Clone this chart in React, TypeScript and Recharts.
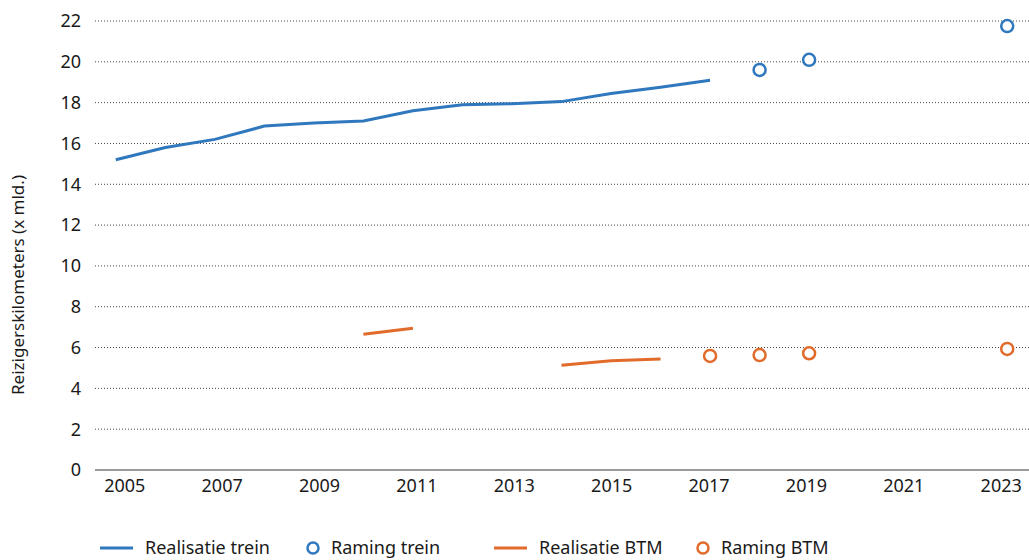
import { ComposedChart, Line, XAxis, YAxis, CartesianGrid } from 'recharts';

const years = [2005, 2006, 2007, 2008, 2009, 2010, 2011, 2012, 2013, 2014, 2015, 2016, 2017, 2018, 2019, 2020, 2021, 2022, 2023];
const realisatieTrein = [15.2, 15.8, 16.2, 16.85, 17.0, 17.1, 17.6, 17.9, 17.95, 18.05, 18.45, 18.75, 19.1, null, null, null, null, null, null];
const ramingTrein = [null, null, null, null, null, null, null, null, null, null, null, null, null, 19.6, 20.1, null, null, null, 21.75];
const realisatieBTM = [null, null, null, null, null, 6.65, 6.95, null, null, 5.13, 5.35, 5.44, null, null, null, null, null, null, null];
const ramingBTM = [null, null, null, null, null, null, null, null, null, null, null, null, 5.59, 5.63, 5.72, null, null, null, 5.93];
const xTicks = [2005, 2007, 2009, 2011, 2013, 2015, 2017, 2019, 2021, 2023];
const yTicks = [0, 2, 4, 6, 8, 10, 12, 14, 16, 18, 20, 22];

const blue = '#2f78bd';
const orange = '#e16b2a';
const font = "'Noto Sans', sans-serif";

const data = years.map((y, i) => ({
  year: y,
  realisatieTrein: realisatieTrein[i],
  ramingTrein: ramingTrein[i],
  realisatieBTM: realisatieBTM[i],
  ramingBTM: ramingBTM[i],
}));

const XTick = (props: any) => {
  const { x, y, payload } = props;
  // labels in the original sit slightly off the data positions
  const shift = 9 - ((payload.value - 2005) * 15) / 18;
  return (
    <text x={x + shift} y={y + 14} textAnchor="middle" fill="#1a1a1a" fontSize={18} fontFamily={font}>
      {payload.value}
    </text>
  );
};

const legendItems = [
  { label: 'Realisatie trein', color: blue, type: 'line', x: 100 },
  { label: 'Raming trein', color: blue, type: 'circle', x: 306 },
  { label: 'Realisatie BTM', color: orange, type: 'line', x: 494 },
  { label: 'Raming BTM', color: orange, type: 'circle', x: 696 },
];

const ChartLegend = () => (
  <svg width={1029} height={30} style={{ position: 'absolute', left: 0, top: 533 }}>
    {legendItems.map((it) => (
      <g key={it.label}>
        {it.type === 'line' ? (
          <line x1={it.x} x2={it.x + 33} y1={15} y2={15} stroke={it.color} strokeWidth={3} />
        ) : (
          <circle cx={it.x + 7} cy={15} r={5.5} fill="#fff" stroke={it.color} strokeWidth={2.5} />
        )}
        <text x={it.type === 'line' ? it.x + 45 : it.x + 25} y={21} fontSize={18} fontFamily={font} fill="#1a1a1a">
          {it.label}
        </text>
      </g>
    ))}
  </svg>
);

const YLabel = () => (
  <text
    x={24}
    y={285}
    transform="rotate(-90, 24, 285)"
    textAnchor="middle"
    fontSize={17}
    fontFamily={font}
    fill="#1a1a1a"
  >
    Reizigerskilometers (x mld.)
  </text>
);

export default function App() {
  return (
    <div style={{ position: 'absolute', left: 0, top: 0, width: 1029, height: 560, background: '#fff' }}>
      <ComposedChart width={1029} height={560} data={data} margin={{ top: 21, right: 0, bottom: 0, left: 15 }}>
        <CartesianGrid horizontal vertical={false} stroke="#444" strokeDasharray="1 2" />
        <XAxis
          dataKey="year"
          type="number"
          domain={[2004.58, 2023.44]}
          ticks={xTicks}
          tick={<XTick />}
          tickLine={false}
          height={90}
          axisLine={{ stroke: '#9a9a9a', strokeWidth: 2 }}
          allowDataOverflow
        />
        <YAxis
          width={80}
          domain={[0, 22]}
          ticks={yTicks}
          axisLine={false}
          tickLine={false}
          tick={{ fontSize: 18, fill: '#1a1a1a', fontFamily: font, dx: -6 }}
          label={<YLabel />}
        />
        <Line dataKey="realisatieTrein" stroke={blue} strokeWidth={3} dot={false} isAnimationActive={false} />
        <Line
          dataKey="ramingTrein"
          stroke="none"
          dot={{ r: 6, fill: '#fff', stroke: blue, strokeWidth: 2.5 }}
          isAnimationActive={false}
        />
        <Line dataKey="realisatieBTM" stroke={orange} strokeWidth={3} dot={false} isAnimationActive={false} />
        <Line
          dataKey="ramingBTM"
          stroke="none"
          dot={{ r: 6, fill: '#fff', stroke: orange, strokeWidth: 2.5 }}
          isAnimationActive={false}
        />
      </ComposedChart>
      <ChartLegend />
    </div>
  );
}
